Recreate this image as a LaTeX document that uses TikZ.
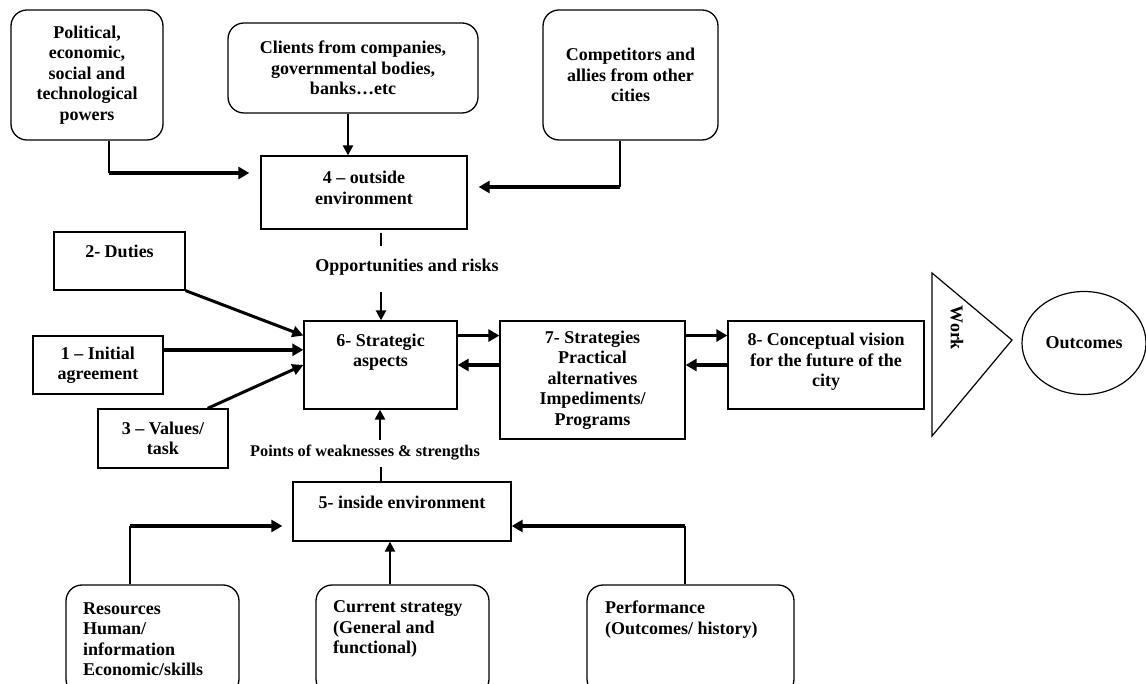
\documentclass[tikz,border=0pt]{standalone}
\usepackage{fontspec}
\setmainfont{Liberation Serif}
\usetikzlibrary{arrows.meta,shapes.geometric,calc}

\begin{document}
\begin{tikzpicture}[x=1pt,y=-1pt,
  font=\fontsize{18}{20.5}\selectfont\bfseries,
  box/.style={draw, line width=1.3pt, rectangle, inner sep=0pt, align=center},
  rbox/.style={box, rounded corners=16pt},
  txt/.style={inner sep=0pt, align=center},
  ltxt/.style={inner sep=0pt, align=left, anchor=west},
  thinline/.style={line width=1.3pt},
  heavy/.style={line width=3.6pt, -{Triangle[length=11pt,width=12pt]}},
  medium/.style={line width=2.4pt, -{Triangle[length=10pt,width=10pt]}},
  slant/.style={line width=3pt, -{Triangle[length=11pt,width=11pt]}},
]
\useasboundingbox (0,0) rectangle (1146,684);

% outside influences
\node[rbox, minimum width=152pt, minimum height=130pt] (pol) at (87,75)
  {Political,\\economic,\\social and\\technological\\powers};
\node[rbox, minimum width=250pt, minimum height=90pt] (cli) at (353,68)
  {Clients from companies,\\governmental bodies,\\banks…etc};
\node[rbox, minimum width=175pt, minimum height=130pt] (comp) at (630.5,75)
  {Competitors and\\allies from other\\cities};

% 4 - outside environment
\node[box, minimum width=206pt, minimum height=73pt] (out) at (364,192.5) {};
\node[txt] (outt) at (364,188) {4 – outside\\environment};

% inputs on the left
\node[box, minimum width=131pt, minimum height=58pt] (b2) at (119.5,261) {};
\node[txt] (b2t) at (119.5,251) {2- Duties};
\node[box, minimum width=130pt, minimum height=58pt] (b1) at (98,365) {1 – Initial\\agreement};
\node[box, minimum width=130pt, minimum height=59pt] (b3) at (163,438.5) {3 – Values/\\task};

% 6 - strategic aspects
\node[box, minimum width=153pt, minimum height=88pt] (b6) at (380.5,365) {};
\node[txt] (b6t) at (380.5,352) {6- Strategic\\aspects};

% 7 - strategies
\node[box, minimum width=185pt, minimum height=118pt] (b7) at (592.5,380)
  {7- Strategies\\Practical\\alternatives\\Impediments/\\Programs};

% 8 - conceptual vision
\node[box, minimum width=196pt, minimum height=88pt] (b8) at (826,365) {};
\node[txt] (b8t) at (826,362) {8- Conceptual vision\\for the future of the\\city};

% work and outcomes
\coordinate (wt1) at (932,273);
\coordinate (wt2) at (932,436);
\coordinate (wtip) at (1012,340);
\draw[line width=1.2pt, line join=miter] (wt1) -- (wtip) -- (wt2) -- cycle;
\node[txt, rotate=-90] (work) at (957,328) {Work};
\node[draw, ellipse, line width=1.2pt, minimum width=124pt, minimum height=103pt,
      inner sep=0pt] (outc) at (1084,343) {Outcomes};

% 5 - inside environment
\node[box, minimum width=218pt, minimum height=59pt] (b5) at (402,511.5) {};
\node[txt] (b5t) at (402,502) {5- inside environment};

% inside resources
\node[rbox, minimum width=173pt, minimum height=110pt] (res) at (152.5,640) {};
\node[ltxt] (rest) at (83,639) {Resources\\Human/\\information\\Economic/skills};
\node[rbox, minimum width=173pt, minimum height=110pt] (cur) at (402.5,640) {};
\node[ltxt] (curt) at (333,629) {Current strategy\\(General and\\functional)};
\node[rbox, minimum width=207pt, minimum height=110pt] (perf) at (690.5,640) {};
\node[ltxt] (perft) at (605,619.5) {Performance\\(Outcomes/ history)};

% labels on the vertical flows
\node[txt] (opp) at (407,267) {Opportunities and risks};
\node[txt, font=\fontsize{16.3}{19}\selectfont\bfseries] (pts) at (365,453)
  {Points of weaknesses \& strengths};

% connectors into 4
\coordinate (polbend) at (109,173);
\draw[thinline] (pol.south -| polbend) -- (polbend);
\draw[heavy, shorten >=11pt] (polbend) -- (out.west |- polbend);
\coordinate (clix) at (348,0);
\draw[medium] (cli.south -| clix) -- (out.north -| clix);
\coordinate (compbend) at (620,187);
\draw[thinline] (comp.south -| compbend) -- (compbend);
\draw[heavy, shorten >=11pt] (compbend) -- (out.east |- compbend);

% from 4 to 6
\coordinate (oppa) at (381,246);
\coordinate (oppb) at (381,292);
\draw[thinline, shorten <=3pt] (out.south -| oppa) -- (oppa);
\draw[medium] (oppb) -- (b6.north -| oppb);

% into 6 from the left
\coordinate (in2) at ($(b6.north west)!0.17!(b6.south west)$);
\coordinate (in1) at ($(b6.north west)!0.33!(b6.south west)$);
\coordinate (in3) at (b6.west);
\draw[slant] (b2.south east) -- (in2);
\draw[heavy] (b1.east |- in1) -- (in1);
\draw[slant] ($(b3.north west)!0.84!(b3.north east)$) -- (in3);

% 6 <-> 7 <-> 8
\draw[heavy] (b6.east |- in2) -- (b7.west |- in2);
\draw[heavy] (b7.west |- in3) -- (b6.east |- in3);
\draw[heavy] (b7.east |- in2) -- (b8.west |- in2);
\draw[heavy] (b8.west |- in3) -- (b7.east |- in3);

% from 5 to 6
\coordinate (wka) at (381,467);
\coordinate (wkb) at (380,440);
\draw[thinline] (b5.north -| wka) -- (wka);
\draw[medium] (wkb) -- (b6.south -| wkb);

% connectors into 5
\coordinate (resbend) at (130,526);
\draw[thinline] (res.north -| resbend) -- (resbend);
\draw[heavy, shorten >=10pt] (resbend) -- (b5.west |- resbend);
\coordinate (curx) at (390,0);
\draw[medium] (cur.north -| curx) -- (b5.south -| curx);
\coordinate (perfbend) at (685,526);
\draw[thinline] (perf.north -| perfbend) -- (perfbend);
\draw[heavy] (perfbend) -- (b5.east |- perfbend);
\end{tikzpicture}
\end{document}
